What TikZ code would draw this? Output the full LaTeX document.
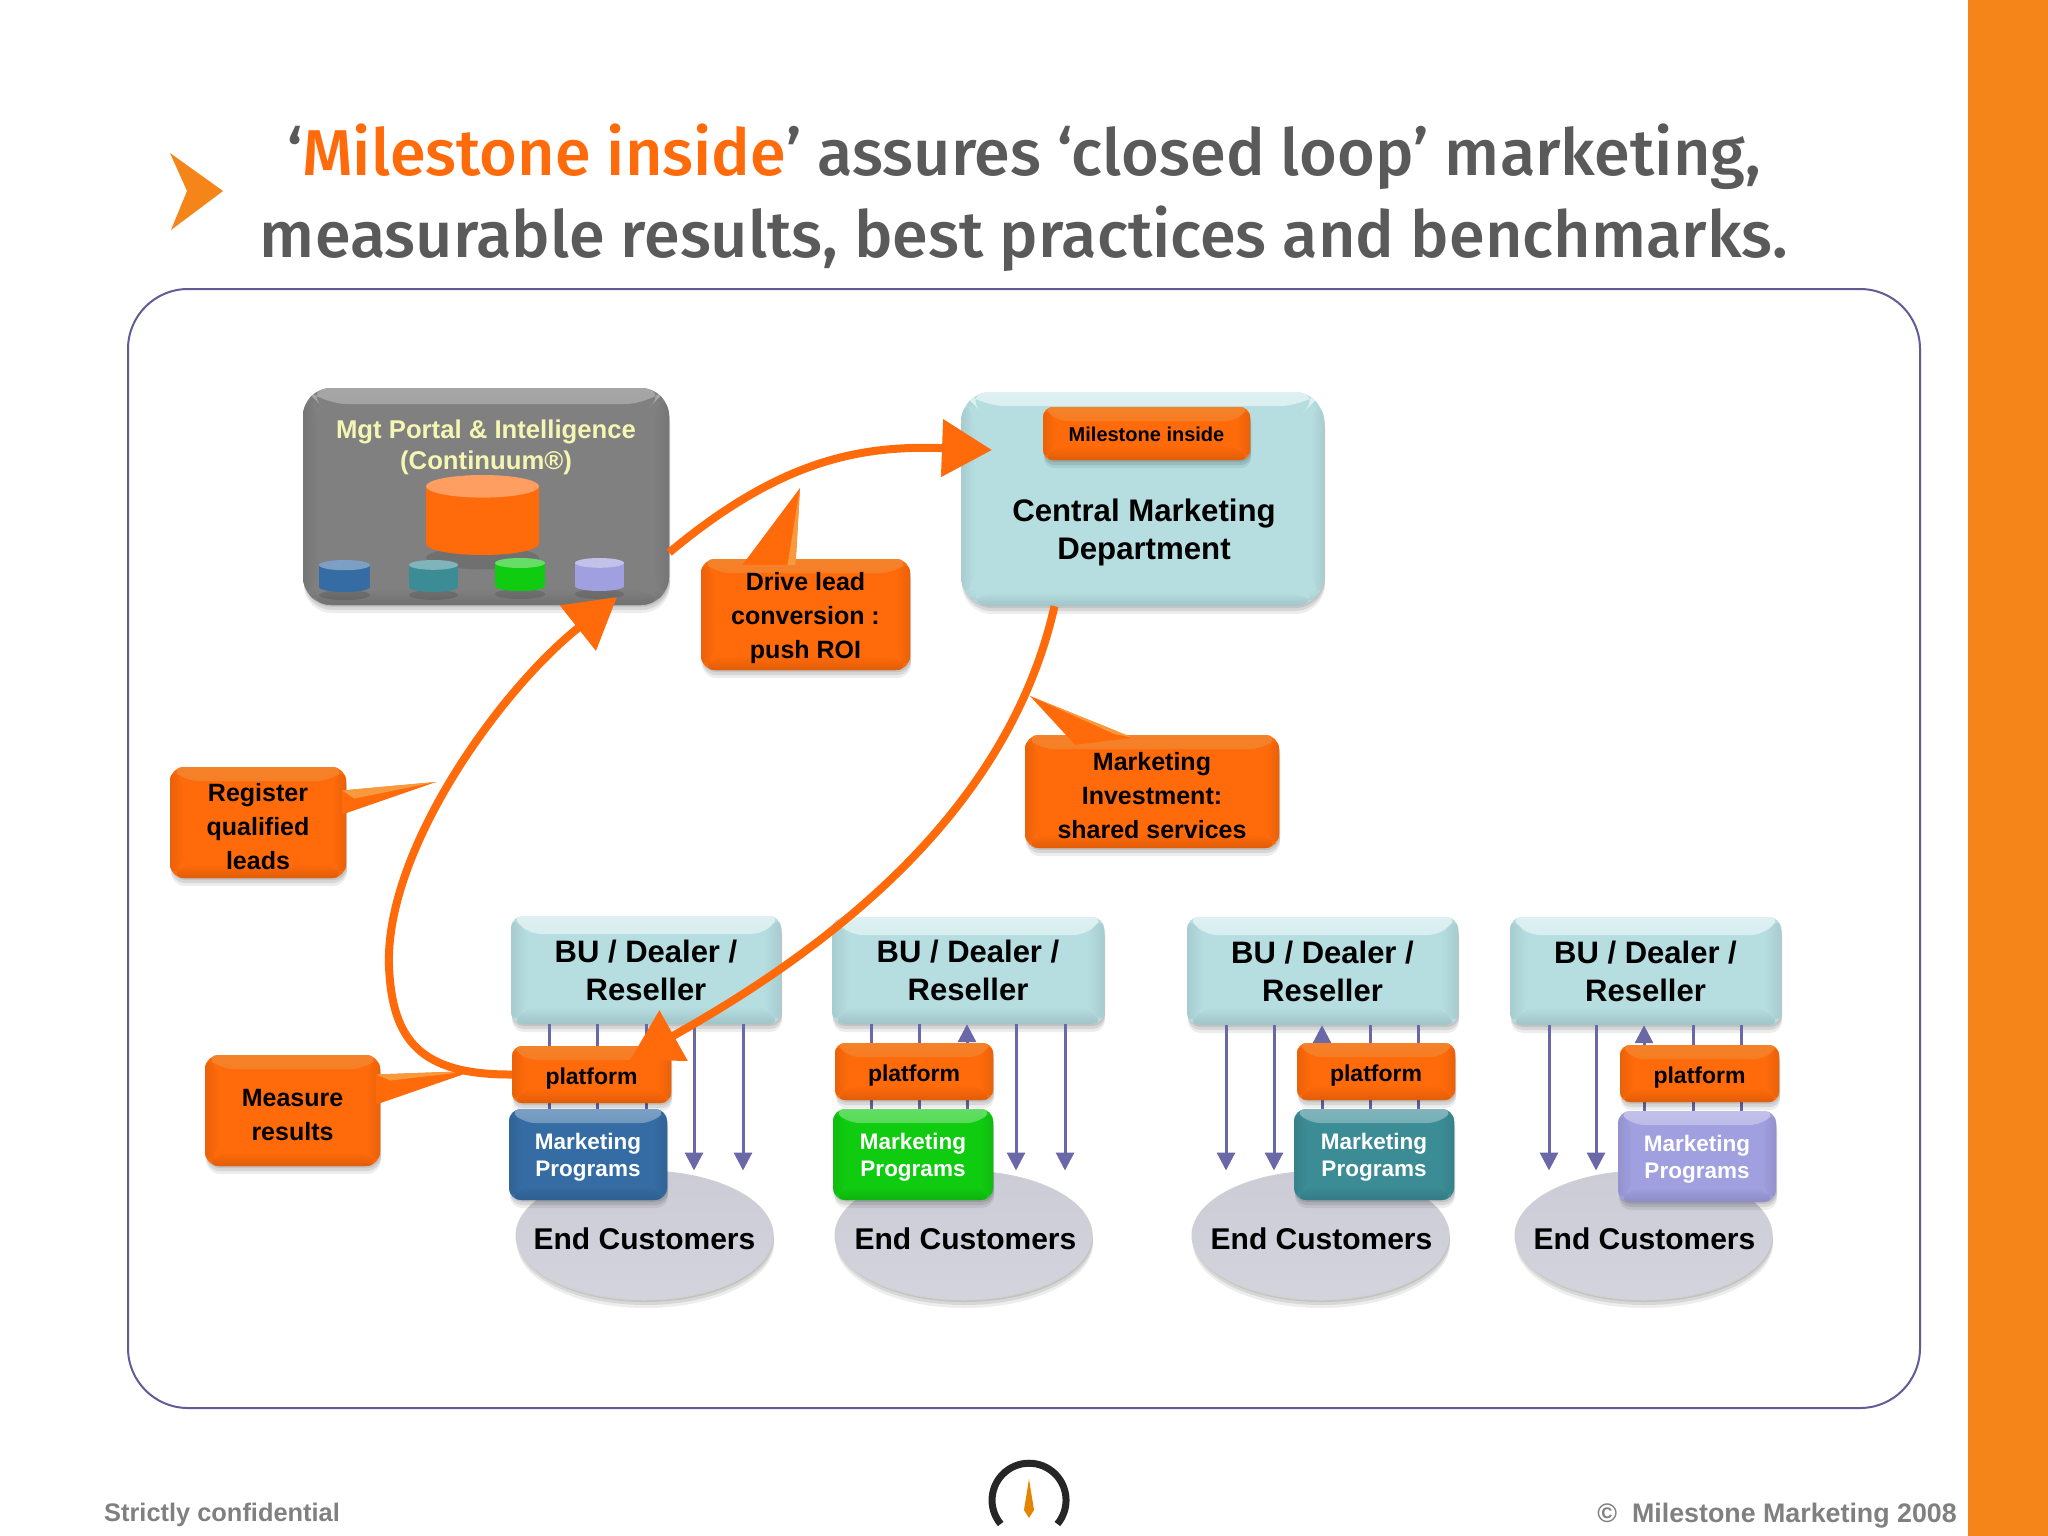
\documentclass[tikz,border=0pt]{standalone}
\usepackage{fontspec}
\setmainfont{Liberation Sans}
\newfontfamily\titlef{Fira Sans}[UprightFont=* Medium]
\usetikzlibrary{shapes.geometric,shadows,calc,arrows.meta,shadings}
\definecolor{oc}{HTML}{FF6A0A}
\definecolor{ocl}{HTML}{F79A3E}
\definecolor{ocm}{HTML}{F4822A}
\definecolor{barc}{HTML}{F58518}
\definecolor{titleg}{HTML}{5A5A5A}
\definecolor{frameP}{HTML}{5F5C96}
\definecolor{arP}{HTML}{6A68A6}
\definecolor{ice}{HTML}{B6DEE1}
\definecolor{blueP}{HTML}{356CA3}
\definecolor{greenP}{HTML}{10CC10}
\definecolor{tealP}{HTML}{3C8C96}
\definecolor{lilacP}{HTML}{A09FDF}
\definecolor{greyB}{HTML}{808080}
\definecolor{creamT}{HTML}{F6F6B4}
\definecolor{ellG}{HTML}{CBCCD6}
\newcommand{\fsz}[2]{\fontsize{#1}{#2}\selectfont}
\newcommand{\Tc}{\rule{0pt}{26pt}}
\newcommand{\Tm}{\rule{0pt}{22pt}}
\tikzset{
 bevel/.style n args={3}{path picture={
   \def\pb{path picture bounding box}
   \shade[top color=#2,bottom color=#1] (\pb.north west) -- (\pb.north east) -- ++(-#3,#3) -- ($(\pb.north west)+(#3,#3)$) -- cycle;
   \shade[top color=#1,bottom color=#1!88!black] (\pb.south west) -- (\pb.south east) -- ++(-#3,-#3) -- ($(\pb.south west)+(#3,-#3)$) -- cycle;
   \shade[left color=#1!92!black,right color=#1] (\pb.north west) -- ++(#3,#3) -- ($(\pb.south west)+(#3,-#3)$) -- (\pb.south west) -- cycle;
   \shade[right color=#1!92!black,left color=#1] (\pb.north east) -- ++(-#3,#3) -- ($(\pb.south east)+(-#3,-#3)$) -- (\pb.south east) -- cycle;
 }},
 softshadow/.style={drop shadow={shadow xshift=1pt,shadow yshift=-8pt,fill=black,opacity=.07},drop shadow={shadow xshift=1pt,shadow yshift=-5pt,fill=black,opacity=.09},drop shadow={shadow xshift=1pt,shadow yshift=-2pt,fill=black,opacity=.09}},
 tshift/.style={execute at begin node={\rule{0pt}{#1}}},
 box/.style={inner sep=0pt,align=center,softshadow,font=\bfseries},
 icebox/.style={box,fill=ice,rounded corners=12pt,bevel={ice}{ice!45!white}{18},font=\bfseries\fsz{31}{38}},
 central/.style={box,fill=ice,rounded corners=30pt,bevel={ice}{ice!45!white}{14}},
 orange/.style={box,fill=oc,rounded corners=10pt,bevel={oc}{ocm}{14}},
 callout/.style={orange,rounded corners=14pt,font=\bfseries\fsz{25}{34}},
 plat/.style={orange,font=\bfseries\fsz{23}{28},tshift=24pt},
 mp/.style={box,rounded corners=12pt,text=white,font=\bfseries\fsz{22.5}{27}},
 ecust/.style={ellipse,inner sep=0pt,draw=white!82!black,line width=1pt,top color=ellG,bottom color=ellG!85!white,softshadow},
 etext/.style={inner sep=0pt,font=\bfseries\fsz{30}{36}},
 pa/.style={draw=arP,line width=3pt},
 pad/.style={pa,-{Triangle[length=18pt,width=18pt]}},
 bigarrow/.style={draw=oc,line width=8pt,-{Triangle[length=50pt,width=56pt,fill=oc]}},
}
\newcommand{\bx}[6]{\node[#1,minimum width={(#5-#3)*1pt},minimum height={(#6-#4)*1pt}] (#2) at ({(#3+#5)/2},{(#4+#6)/2})}
% cylinder: left, right, top, bottom, colour
\newcommand{\cylin}[5]{%
 \pgfmathsetmacro{\cx}{(#1+#2)/2}\pgfmathsetmacro{\rx}{(#2-#1)/2}\pgfmathsetmacro{\ry}{(#2-#1)*.1}%
 \pgfmathsetmacro{\yta}{#3+\ry}\pgfmathsetmacro{\ybo}{#4-\ry}%
 \fill[black,opacity=.12] (\cx,#4+3) ellipse[x radius=\rx,y radius=\ry];
 \fill[#5] (#1,\yta) rectangle (#2,\ybo);
 \fill[#5] (\cx,\ybo) ellipse[x radius=\rx,y radius=\ry];
 \fill[#5!65!white] (\cx,\yta) ellipse[x radius=\rx,y radius=\ry];
}
\begin{document}
\begin{tikzpicture}[x=1pt,y=-1pt]
\useasboundingbox (0,0) rectangle (2048,1536);
\fill[white] (0,0) rectangle (2048,1536);
\fill[barc] (1968,0) rectangle (2048,1536);
% title
\fill[barc] (170,153) -- (223,191) -- (171,230) -- (187,191) -- cycle;
\node[align=center,text=titleg,inner sep=0pt,font=\titlef\fsz{64.8}{82}] (title) at (1024,198) {‘{\color{oc}Milestone inside}’ assures ‘closed loop’ marketing,\\ measurable results, best practices and benchmarks.};
% frame
\draw[frameP,line width=2pt,rounded corners=60pt] (128,289) rectangle (1920,1408);
% Mgt portal
\bx{box,fill=greyB,rounded corners=28pt,bevel={greyB}{greyB!70!white}{16}}{mgt}{303}{388}{669}{605}{};
\node[text=creamT,align=center,inner sep=0pt,font=\bfseries\fsz{25.7}{31}] (mgtlabel) at (486,447) {Mgt Portal \& Intelligence\\(Continuum®)};
\cylin{426}{539}{475}{555}{oc}
\cylin{319}{370}{560}{592}{blueP}
\cylin{409}{458}{560}{592}{tealP}
\cylin{495}{545}{558}{591}{greenP}
\cylin{575}{624}{558}{591}{lilacP}
% central
\bx{central}{cmd}{961}{392}{1324}{606}{};
\bx{orange,font=\bfseries\fsz{20}{26},tshift=17pt}{mi}{1043}{407}{1250}{460}{Milestone inside};
\node[align=center,inner sep=0pt,font=\bfseries\fsz{31.2}{38}] (cmdlabel) at (1144,532) {Central Marketing\\Department};
% end customers
\foreach \n/\a/\dx in {1/516/0,2/835/2,3/1192/1,4/1515/1}{
 \pgfmathsetmacro{\b}{\a+257}
 \bx{ecust}{e\n}{\a}{1171}{\b}{1300}{};
 \node[etext] (et\n) at ($(e\n.center)+(\dx,3)$) {End Customers};
}
% BU boxes
\bx{icebox}{bu1}{511}{916}{781}{1024}{BU / Dealer /\\Reseller};
\bx{icebox}{bu2}{832}{917}{1104}{1024}{BU / Dealer /\\Reseller};
\bx{icebox}{bu3}{1187}{917}{1458}{1025}{BU / Dealer /\\Reseller};
\bx{icebox}{bu4}{1510}{917}{1781}{1025}{BU / Dealer /\\Reseller};
% marketing programme tops, for the lines drawn before those boxes
\coordinate (mp1top) at (588,1109);
\coordinate (mp2top) at (913,1109);
\coordinate (mp3top) at (1374,1109);
\coordinate (mp4top) at (1697,1111);
% purple lines
\foreach \n/\xa/\xb/\xc/\xd/\xe/\kind in {1/549/597/646/694/743/L,2/871/919/967/1016/1065/L,3/1226/1274/1322/1370/1418/R,4/1549/1596/1644/1693/1741/R}{
 \foreach \xx/\st in {\xa/a,\xb/b,\xc/c,\xd/d,\xe/e}{
  \coordinate (t) at (\xx,0);
  \coordinate (u) at (bu\n.south -| t);
  \if\st c
    \ifnum\n=1
      \draw[pa] (u |- mp\n top) -- (u);
    \else
      \draw[pad] (u |- mp\n top) -- (u);
    \fi
  \else
    \if\kind L
      \if\st a \draw[pa] (u) -- (u |- mp\n top);\fi
      \if\st b \draw[pa] (u) -- (u |- mp\n top);\fi
      \if\st d \draw[pad] (u) -- (u |- e\n.north);\fi
      \if\st e \draw[pad] (u) -- (u |- e\n.north);\fi
    \else
      \if\st a \draw[pad] (u) -- (u |- e\n.north);\fi
      \if\st b \draw[pad] (u) -- (u |- e\n.north);\fi
      \if\st d \draw[pa] (u) -- (u |- mp\n top);\fi
      \if\st e \draw[pa] (u) -- (u |- mp\n top);\fi
    \fi
  \fi
 }
}
% platforms
\bx{plat}{p1}{512}{1046}{671}{1103}{platform};
\bx{plat}{p2}{835}{1043}{993}{1100}{platform};
\bx{plat}{p3}{1297}{1043}{1455}{1100}{platform};
\bx{plat}{p4}{1620}{1045}{1779}{1102}{platform};
% marketing programs
\bx{mp,fill=blueP,bevel={blueP}{blueP!65!white}{14}}{mp1}{509}{1109}{667}{1200}{\Tm Marketing\\Programs};
\bx{mp,fill=greenP,bevel={greenP}{greenP!65!white}{14}}{mp2}{833}{1109}{993}{1200}{\Tm Marketing\\Programs};
\bx{mp,fill=tealP,bevel={tealP}{tealP!65!white}{14}}{mp3}{1294}{1109}{1454}{1200}{\Tm Marketing\\Programs};
\bx{mp,fill=lilacP,bevel={lilacP}{lilacP!65!white}{14}}{mp4}{1618}{1111}{1776}{1202}{\Tm Marketing\\Programs};
% callouts
\bx{callout}{c1}{701}{559}{910}{670}{\Tc Drive lead\\conversion :\\push ROI};
\bx{callout}{c2}{1025}{735}{1279}{848}{\Tc Marketing\\Investment:\\shared services};
\bx{callout}{c3}{170}{767}{346}{878}{\Tc Register\\qualified\\leads};
\bx{callout}{c4}{205}{1055}{380}{1166}{\Tc Measure\\results};
\coordinate (c1tip) at (800,488);
\coordinate (c2tip) at (1030,696);
\coordinate (c3tip) at (436,782);
\coordinate (c4tip) at (473,1071);
\fill[oc] (c1tip) -- ($(c1.north)+(-63,6)$) -- ($(c1.north)+(-10,6)$) -- cycle;
\fill[ocl] (c1tip) -- ($(c1.north)+(-10,6)$) -- ($(c1.north)+(-18,6)$) -- cycle;
\fill[oc] (c2tip) -- ($(c2.north)+(-77,10)$) -- ($(c2.north)+(-19,3)$) -- cycle;
\fill[ocl] (c2tip) -- ($(c2.north)+(-19,3)$) -- ($(c2.north)+(-38,-1)$) -- cycle;
\fill[oc] (c3tip) -- ($(c3.east)+(-4,-32)$) -- ($(c3.east)+(-4,-8)$) -- cycle;
\fill[ocl] (c3tip) -- ($(c3.east)+(-4,-32)$) -- ($(c3.east)+(8,-24)$) -- cycle;
\fill[oc] (c4tip) -- ($(c4.east)+(-4,-36)$) -- ($(c4.east)+(-4,-6)$) -- cycle;
\fill[ocl] (c4tip) -- ($(c4.east)+(-4,-36)$) -- ($(c4.east)+(10,-30)$) -- cycle;
% big loop arrows
\coordinate (tipA) at (992,450);
\coordinate (tipB) at (630,1060);
\coordinate (tipC) at (617,597);
\coordinate (mid) at (389,966);
\draw[bigarrow] ($(mgt.east)+(0,56)$) .. controls (780,460) and (860,445) .. (tipA);
\draw[bigarrow] ($(cmd.south)+(-88,0)$) .. controls (1015,780) and (880,920) .. (tipB);
\draw[bigarrow] (p1.west) .. controls (420,1075) and (392,1040) .. (mid) .. controls (385,850) and (500,690) .. (tipC);
% footer
\node[anchor=west,text=gray,inner sep=0pt,font=\bfseries\fsz{25.4}{30}] (conf) at (104,1515) {Strictly confidential};
\node[anchor=east,text=gray,inner sep=0pt,font=\bfseries\fsz{26.8}{30}] (copy) at (1957,1516) {©\ \ Milestone Marketing 2008};
% gauge logo
\draw[black!85,line width=7pt] (1000.7,1524) arc[start angle=220,end angle=-40,radius=37pt];
\fill[orange!85!yellow!90!black] (1029,1479) -- (1034,1510) -- (1029,1518) -- (1024,1510) -- cycle;
\end{tikzpicture}
\end{document}
